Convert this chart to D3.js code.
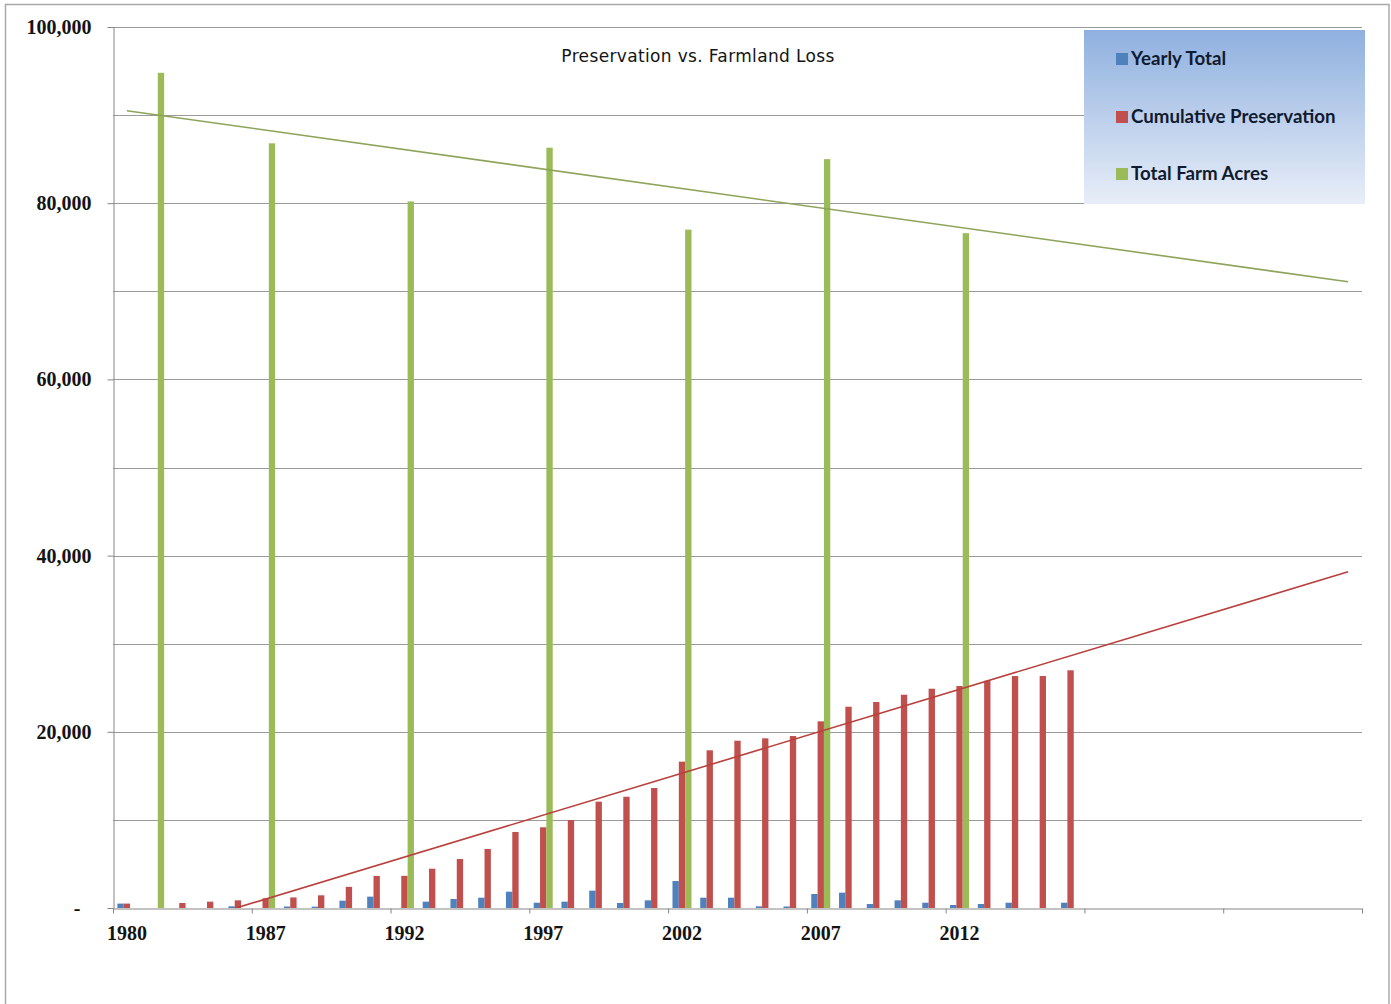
<!DOCTYPE html>
<html>
<head>
<meta charset="utf-8">
<script src="https://cdn.jsdelivr.net/npm/d3@7"></script>
<style>
  html, body { margin: 0; padding: 0; background: #fff; }
  svg { display: block; }
</style>
</head>
<body>
<svg id="chart" width="1391" height="1004"></svg>
<script>
// Category labels (one per year row; trailing rows are empty and leave room for the trend lines)
const categories = [
  "1980", "1982", "1983", "1984", "1985",
  "1987", "1988", "1989", "1990", "1991",
  "1992", "1993", "1994", "1995", "1996",
  "1997", "1998", "1999", "2000", "2001",
  "2002", "2003", "2004", "2005", "2006",
  "2007", "2008", "2009", "2010", "2011",
  "2012", "2013", "2014", "2015", "2016",
  "", "", "", "", "", "", "", "", "", ""
];

// Acres preserved in each year
const yearlyTotal = [
  500, null, null, null, 190,
  null, 170, 150, 830, 1290,
  null, 720, 1020, 1170, 1850,
  600, 720, 1970, 570, 870,
  3060, 1170, 1170, 190, 170,
  1590, 1740, 450, 870, 600,
  340, 450, 600, null, 600
];

// Running total of preserved acres
const cumulativePreservation = [
  500, null, 570, 720, 870,
  1100, 1200, 1440, 2400, 3640,
  3650, 4460, 5560, 6700, 8630,
  9160, 9990, 12070, 12630, 13620,
  16610, 17900, 18990, 19260, 19520,
  21190, 22850, 23380, 24210, 24890,
  25200, 25800, 26330, 26330, 26980
];

// Census of Agriculture farm acreage (census years only)
const totalFarmAcres = [
  null, 94800, null, null, null,
  86800, null, null, null, null,
  80200, null, null, null, null,
  86300, null, null, null, null,
  77000, null, null, null, null,
  85000, null, null, null, null,
  76600, null, null, null, null
];

const seriesNames = ["Yearly Total", "Cumulative Preservation", "Total Farm Acres"];
const seriesColors = ["#4f81bd", "#c0504d", "#9bbb59"];
const trendColors = { "Cumulative Preservation": "#b8403d", "Total Farm Acres": "#8ea45a" };
const yTicks = [0, 20000, 40000, 60000, 80000, 100000];
const gridValues = [10000, 20000, 30000, 40000, 50000, 60000, 70000, 80000, 90000, 100000];

const series = [
  { name: seriesNames[0], values: yearlyTotal },
  { name: seriesNames[1], values: cumulativePreservation },
  { name: seriesNames[2], values: totalFarmAcres }
];

const svg = d3.select("#chart");
const plot = { left: 113, right: 1362, top: 27, bottom: 908 };
const labelFont = "'Liberation Serif', 'Times New Roman', serif";

// Outer chart frame
svg.append("rect")
  .attr("x", 5.5).attr("y", 4.5)
  .attr("width", 1383.5).attr("height", 1020)
  .attr("fill", "#fff")
  .attr("stroke", "#a9a9a9").attr("stroke-width", 1.5);

const idx = d3.range(categories.length);
const x = d3.scaleBand()
  .domain(idx)
  .range([plot.left, plot.right])
  .paddingInner(0.315)
  .paddingOuter(0.1575);
const xSub = d3.scaleBand()
  .domain(seriesNames)
  .range([0, x.bandwidth()]);
const xEdge = d3.scaleLinear()
  .domain([0, categories.length])
  .range([plot.left, plot.right]);
const y = d3.scaleLinear()
  .domain([0, 100000])
  .range([plot.bottom, plot.top]);

// Horizontal gridlines
svg.append("g")
  .selectAll("line")
  .data(gridValues)
  .join("line")
  .attr("x1", plot.left).attr("x2", plot.right)
  .attr("y1", d => Math.round(y(d)) + 0.5)
  .attr("y2", d => Math.round(y(d)) + 0.5)
  .attr("stroke", "#9a9a9a").attr("stroke-width", 1);

// Bars
const barLayer = svg.append("g");
series.forEach((s, si) => {
  barLayer.append("g")
    .attr("fill", seriesColors[si])
    .selectAll("rect")
    .data(s.values.map((v, i) => ({ i, v })).filter(d => d.v != null))
    .join("rect")
    .attr("x", d => x(d.i) + xSub(s.name))
    .attr("width", xSub.bandwidth())
    .attr("y", d => y(d.v))
    .attr("height", d => y(0) - y(d.v));
});

// Linear trend lines (least squares over row number), clipped to the plot area
svg.append("clipPath").attr("id", "plotClip")
  .append("rect")
  .attr("x", plot.left).attr("y", plot.top)
  .attr("width", plot.right - plot.left).attr("height", plot.bottom - plot.top);

function linearFit(values) {
  const pts = values.map((v, i) => [i + 1, v]).filter(p => p[1] != null);
  const mx = d3.mean(pts, p => p[0]);
  const my = d3.mean(pts, p => p[1]);
  const sxy = d3.sum(pts, p => (p[0] - mx) * (p[1] - my));
  const sxx = d3.sum(pts, p => (p[0] - mx) ** 2);
  const slope = sxy / sxx;
  return n => my + slope * (n - mx);
}

const trendLine = d3.line()
  .x(d => x(d.i) + x.bandwidth() / 2)
  .y(d => y(d.v));

const trendLayer = svg.append("g").attr("clip-path", "url(#plotClip)");
[series[1], series[2]].forEach(s => {
  const fit = linearFit(s.values);
  const ends = [0, categories.length - 1].map(i => ({ i, v: fit(i + 1) }));
  trendLayer.append("path")
    .datum(ends)
    .attr("d", trendLine)
    .attr("fill", "none")
    .attr("stroke", trendColors[s.name])
    .attr("stroke-width", 1.6);
});

// Y axis
const yAxis = svg.append("g")
  .attr("transform", `translate(${plot.left + 0.5},0)`)
  .call(d3.axisLeft(y)
    .tickValues(yTicks)
    .tickSize(6)
    .tickSizeOuter(0)
    .tickPadding(16)
    .tickFormat(d => d === 0 ? "-" : d3.format(",")(d)));
yAxis.select(".domain").attr("stroke", "#868686");
yAxis.selectAll(".tick line").attr("stroke", "#868686");
yAxis.selectAll(".tick text")
  .attr("font-family", labelFont)
  .attr("font-weight", "bold")
  .attr("font-size", 20)
  .attr("fill", "#141414")
  .attr("dx", d => d === 0 ? -11 : 0);

// X axis: tick marks on category boundaries every five rows
const xTicks = svg.append("g")
  .attr("transform", `translate(0,${plot.bottom + 0.5})`)
  .call(d3.axisBottom(xEdge)
    .tickValues(d3.range(0, categories.length + 1, 5))
    .tickSize(5)
    .tickSizeOuter(0)
    .tickFormat(""));
xTicks.select(".domain").attr("stroke", "#868686");
xTicks.selectAll(".tick line").attr("stroke", "#868686");

// X axis labels, centred under every fifth category
const xLabels = svg.append("g")
  .attr("transform", `translate(0,${plot.bottom})`)
  .call(d3.axisBottom(x)
    .tickValues(idx.filter(i => i % 5 === 0 && categories[i] !== ""))
    .tickSize(0)
    .tickPadding(18)
    .tickFormat(i => categories[i]));
xLabels.select(".domain").remove();
xLabels.selectAll(".tick text")
  .attr("font-family", labelFont)
  .attr("font-weight", "bold")
  .attr("font-size", 20)
  .attr("fill", "#141414");

// Title
svg.append("text")
  .attr("x", 698).attr("y", 62)
  .attr("text-anchor", "middle")
  .attr("font-family", "'DejaVu Sans', sans-serif")
  .attr("font-size", 17)
  .attr("letter-spacing", 0.35)
  .attr("fill", "#141414")
  .text("Preservation vs. Farmland Loss");

// Legend
const defs = svg.append("defs");
const grad = defs.append("linearGradient")
  .attr("id", "legendFill")
  .attr("x1", 0).attr("y1", 0).attr("x2", 0).attr("y2", 1);
grad.append("stop").attr("offset", "0%").attr("stop-color", "#8fb0df");
grad.append("stop").attr("offset", "100%").attr("stop-color", "#e8eef8");

const legend = svg.append("g").attr("transform", "translate(1084,30)");
legend.append("rect")
  .attr("width", 281).attr("height", 174)
  .attr("fill", "url(#legendFill)");
const legendRows = [29, 87, 144];
seriesNames.forEach((name, i) => {
  const g = legend.append("g").attr("transform", `translate(32,${legendRows[i]})`);
  g.append("rect")
    .attr("x", 0).attr("y", -6)
    .attr("width", 12).attr("height", 12)
    .attr("fill", seriesColors[i]);
  g.append("text")
    .attr("x", 15).attr("y", 6)
    .attr("font-family", "Lato, sans-serif")
    .attr("font-weight", "bold")
    .attr("font-size", 18.7)
    .attr("fill", "#101a30")
    .text(name);
});
</script>
</body>
</html>
